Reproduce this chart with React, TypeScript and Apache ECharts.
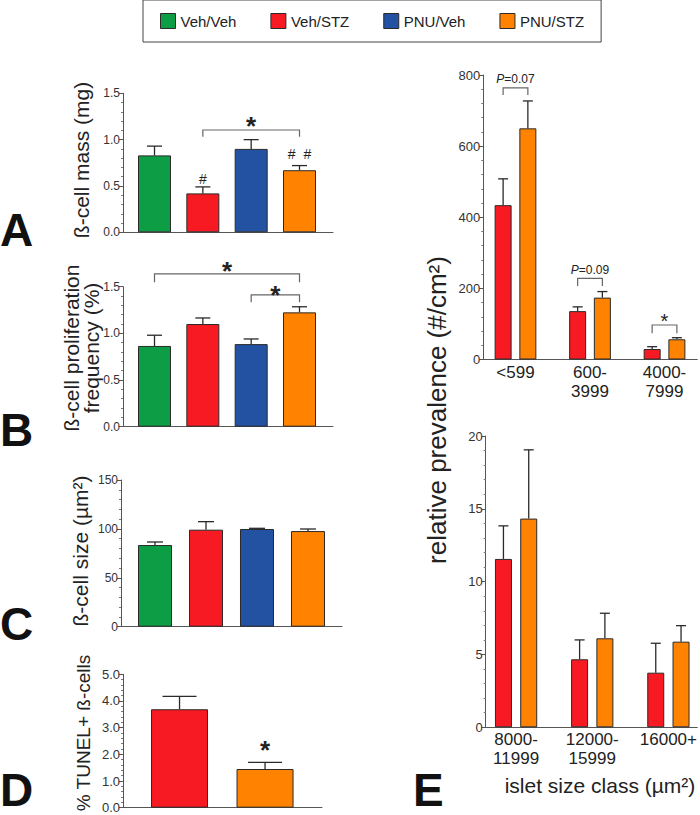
import React, { useEffect, useRef } from 'react';
import * as echarts from 'echarts';

// ---------- data ----------
const groups = ['Veh/Veh', 'Veh/STZ', 'PNU/Veh', 'PNU/STZ'];
const groupColors = ['#0c9d45', '#f71a22', '#2352a3', '#ff8300'];

const massMean = [0.83, 0.42, 0.9, 0.67];
const massSem = [0.1, 0.07, 0.1, 0.05];

const prolifMean = [0.865, 1.1, 0.885, 1.225];
const prolifSem = [0.115, 0.065, 0.055, 0.06];

const sizeMean = [83.5, 99.2, 99.9, 97.8];
const sizeSem = [3.1, 8.2, 0.7, 2.1];

const tunelGroups = ['Veh/STZ', 'PNU/STZ'];
const tunelMean = [3.69, 1.45];
const tunelSem = [0.48, 0.25];

const smallClasses = ['<599', '600-\n3999', '4000-\n7999'];
const smallVehStz = [434, 136, 29.5];
const smallVehStzSem = [74, 12, 6.5];
const smallPnuStz = [650, 174, 56.8];
const smallPnuStzSem = [77, 17, 4.5];

const largeClasses = ['8000-\n11999', '12000-\n15999', '16000+'];
const largeVehStz = [11.56, 4.67, 3.75];
const largeVehStzSem = [2.27, 1.33, 2.02];
const largePnuStz = [14.33, 6.11, 5.88];
const largePnuStzSem = [4.72, 1.72, 1.1];

// ---------- layout ----------
const FONT = 'Arial, "Liberation Sans", Helvetica, sans-serif';
const AXIS = '#555';
const PAIR_OFF = 0.166;

const panels = [
  { grid: { left: 123, top: 93.3, width: 210, height: 139 }, xMin: 0.348, xMax: 4.693, yMax: 1.5, interval: 0.5, dec: 1, barWidth: 33, cap: 15, fs: 12 },
  { grid: { left: 123, top: 286.7, width: 210, height: 140 }, xMin: 0.348, xMax: 4.693, yMax: 1.5, interval: 0.5, dec: 1, barWidth: 33, cap: 15, fs: 12 },
  { grid: { left: 121, top: 480, width: 221, height: 146.7 }, xMin: 0.333, xMax: 4.667, yMax: 150, interval: 50, dec: 0, barWidth: 34, cap: 16, fs: 12 },
  { grid: { left: 123, top: 674.3, width: 199, height: 133.4 }, xMin: 0.339, xMax: 2.666, yMax: 5, interval: 1, dec: 1, barWidth: 57, cap: 34, fs: 13 },
  { grid: { left: 483.3, top: 75, width: 214, height: 284.5 }, xMin: 0.568, xMax: 3.44, yMax: 800, interval: 200, dec: 0, barWidth: 17, cap: 10, fs: 13, classes: smallClasses },
  { grid: { left: 485.7, top: 436, width: 214, height: 291.3 }, xMin: 0.601, xMax: 3.38, yMax: 20, interval: 5, dec: 0, barWidth: 17, cap: 10, fs: 13, classes: largeClasses },
];

// annotations (data coordinates)
const brackets: number[][][] = [
  [[2, 4, 1.104, 1.031]],
  [[1, 4, 1.637, 1.548], [3, 4, 1.412, 1.333]],
  [],
  [],
  [[1 - PAIR_OFF, 1 + PAIR_OFF, 764, 744], [2 - PAIR_OFF, 2 + PAIR_OFF, 228, 207], [3 - PAIR_OFF, 3 + PAIR_OFF, 97, 73.5]],
  [],
];
type Note = { x: number; y: number; t: string; fs: number; bold?: boolean };
const notes: Note[][] = [
  [{ x: 2, y: 0.575, t: '#', fs: 14 }, { x: 4, y: 0.84, t: '#  #', fs: 14 }, { x: 3, y: 1.21, t: '*', fs: 26, bold: true }],
  [{ x: 2.5, y: 1.733, t: '*', fs: 26, bold: true }, { x: 3.5, y: 1.476, t: '*', fs: 26, bold: true }],
  [],
  [{ x: 2, y: 2.39, t: '*', fs: 26, bold: true }],
  [{ x: 1, y: 789, t: '{i|P}=0.07', fs: 12 }, { x: 2, y: 252, t: '{i|P}=0.09', fs: 12 }, { x: 3, y: 120, t: '*', fs: 20 }],
  [],
];

const barStyle = (color: string) => ({ color, borderColor: '#2a2a2a', borderWidth: 1 });

function errorSeries(p: number, pts: number[][], cap: number) {
  return {
    type: 'custom',
    xAxisIndex: p,
    yAxisIndex: p,
    z: 5,
    silent: true,
    encode: { x: 0, y: [1, 2] },
    data: pts,
    renderItem: (params: any, api: any) => {
      const x = api.value(0);
      const b = api.coord([x, api.value(1)]);
      const t = api.coord([x, api.value(2)]);
      const ls = { stroke: '#2a2a2a', lineWidth: 1.3 };
      return {
        type: 'group',
        children: [
          { type: 'line', shape: { x1: b[0], y1: b[1], x2: t[0], y2: t[1] }, style: ls },
          { type: 'line', shape: { x1: t[0] - cap / 2, y1: t[1], x2: t[0] + cap / 2, y2: t[1] }, style: ls },
        ],
      };
    },
  };
}

function bracketSeries(p: number, list: number[][]) {
  return {
    type: 'custom',
    xAxisIndex: p,
    yAxisIndex: p,
    z: 6,
    silent: true,
    clip: false,
    encode: { x: [0, 1], y: [2, 3] },
    data: list,
    renderItem: (params: any, api: any) => {
      const a = api.coord([api.value(0), api.value(2)]);
      const b = api.coord([api.value(1), api.value(2)]);
      const lo = api.coord([api.value(0), api.value(3)]);
      return {
        type: 'polyline',
        shape: { points: [[a[0], lo[1]], a, b, [b[0], lo[1]]] },
        style: { stroke: '#666', lineWidth: 1.2, fill: 'none' },
      };
    },
  };
}

function noteSeries(p: number, list: Note[]) {
  return {
    type: 'custom',
    xAxisIndex: p,
    yAxisIndex: p,
    z: 7,
    silent: true,
    clip: false,
    encode: { x: 0, y: 1 },
    data: list.map((n) => [n.x, n.y]),
    renderItem: (params: any, api: any) => {
      const n = list[params.dataIndex];
      const c = api.coord([api.value(0), api.value(1)]);
      const dy = n.t === '*' ? n.fs * 0.22 : 0;
      return {
        type: 'text',
        x: c[0],
        y: c[1] + dy,
        style: {
          text: n.t,
          fontSize: n.fs,
          fontFamily: FONT,
          fontWeight: n.bold ? 'bold' : 'normal',
          fill: '#222',
          align: 'center',
          verticalAlign: 'middle',
          rich: { i: { fontStyle: 'italic', fontSize: n.fs, fontFamily: FONT, fill: '#222' } },
        },
      };
    },
  };
}

function buildOption() {
  const grid = panels.map((p) => ({ ...p.grid, containLabel: false }));
  const xAxis = panels.map((p, i) => ({
    type: 'value',
    gridIndex: i,
    min: p.xMin,
    max: p.xMax,
    axisLine: { show: true, onZero: false, lineStyle: { color: AXIS, width: 1 } },
    axisTick: { show: false },
    splitLine: { show: false },
    axisLabel: p.classes
      ? {
          show: true,
          customValues: [1, 2, 3],
          formatter: (v: number) => (p.classes as string[])[Math.round(v) - 1] ?? '',
          fontSize: 17,
          lineHeight: 19,
          color: '#222',
          margin: 3,
          fontFamily: FONT,
        }
      : { show: false },
  }));
  const yAxis = panels.map((p, i) => ({
    type: 'value',
    gridIndex: i,
    min: 0,
    max: p.yMax,
    interval: p.interval,
    axisLine: { show: true, lineStyle: { color: AXIS, width: 1 } },
    axisTick: { show: true, length: 4, lineStyle: { color: AXIS } },
    minorTick: { show: true, splitNumber: 5, length: 2, lineStyle: { color: '#777' } },
    splitLine: { show: false },
    minorSplitLine: { show: false },
    axisLabel: {
      fontSize: p.fs,
      color: '#333',
      margin: 3,
      fontFamily: FONT,
      formatter: (v: number) => v.toFixed(p.dec),
    },
  }));

  const series: any[] = [];
  const fourPanels = [
    [massMean, massSem],
    [prolifMean, prolifSem],
    [sizeMean, sizeSem],
  ];
  fourPanels.forEach(([mean, sem], p) => {
    groups.forEach((g, gi) => {
      series.push({
        type: 'bar',
        name: g,
        xAxisIndex: p,
        yAxisIndex: p,
        barWidth: panels[p].barWidth,
        barGap: '-100%',
        itemStyle: barStyle(groupColors[gi]),
        data: [[gi + 1, mean[gi]]],
      });
    });
    series.push(errorSeries(p, mean.map((m, i) => [i + 1, m, m + sem[i]]), panels[p].cap));
  });

  // D
  tunelGroups.forEach((g, gi) => {
    series.push({
      type: 'bar',
      name: g,
      xAxisIndex: 3,
      yAxisIndex: 3,
      barWidth: panels[3].barWidth,
      barGap: '-100%',
      itemStyle: barStyle(groupColors[groups.indexOf(g)]),
      data: [[gi + 1, tunelMean[gi]]],
    });
  });
  series.push(errorSeries(3, tunelMean.map((m, i) => [i + 1, m, m + tunelSem[i]]), panels[3].cap));

  // E
  const ePanels = [
    [smallVehStz, smallVehStzSem, smallPnuStz, smallPnuStzSem],
    [largeVehStz, largeVehStzSem, largePnuStz, largePnuStzSem],
  ];
  ePanels.forEach(([vm, vs, pm, ps], k) => {
    const p = 4 + k;
    const sets: [string, number[], number[], number][] = [
      ['Veh/STZ', vm, vs, -PAIR_OFF],
      ['PNU/STZ', pm, ps, PAIR_OFF],
    ];
    const errPts: number[][] = [];
    sets.forEach(([name, m, s, off]) => {
      series.push({
        type: 'bar',
        name,
        xAxisIndex: p,
        yAxisIndex: p,
        barWidth: panels[p].barWidth,
        barGap: '-100%',
        itemStyle: barStyle(groupColors[groups.indexOf(name)]),
        data: m.map((v, i) => [i + 1 + off, v]),
      });
      m.forEach((v, i) => errPts.push([i + 1 + off, v, v + s[i]]));
    });
    series.push(errorSeries(p, errPts, panels[p].cap));
  });

  panels.forEach((_, p) => {
    if (brackets[p].length) series.push(bracketSeries(p, brackets[p]));
    if (notes[p].length) series.push(noteSeries(p, notes[p]));
  });

  const title = (text: string, x: number, y: number, fs: number, lh?: number) => ({
    type: 'text',
    x,
    y,
    rotation: Math.PI / 2,
    silent: true,
    style: {
      text,
      fontSize: fs,
      fontFamily: FONT,
      fill: '#222',
      align: 'center',
      verticalAlign: 'middle',
      lineHeight: lh ?? fs * 1.15,
    },
  });
  const letter = (text: string, x: number, y: number) => ({
    type: 'text',
    x,
    y,
    silent: true,
    style: { text, fontSize: 46, fontWeight: 'bold', fontFamily: FONT, fill: '#111', align: 'left', verticalAlign: 'middle', lineHeight: 46 },
  });

  return {
    animation: false,
    backgroundColor: '#fff',
    textStyle: { fontFamily: FONT },
    legend: {
      left: 143,
      top: 0,
      data: groups,
      icon: 'rect',
      itemWidth: 15,
      itemHeight: 15,
      itemGap: 34,
      padding: [13, 17, 13, 17],
      borderColor: '#444',
      borderWidth: 1,
      itemStyle: { borderColor: '#2a2a2a', borderWidth: 1 },
      textStyle: { fontSize: 15, color: '#222', fontFamily: FONT },
      selectedMode: false,
    },
    grid,
    xAxis,
    yAxis,
    series,
    graphic: [
      letter('A', 0, 229.5),
      letter('B', 0, 430),
      letter('C', 0, 624),
      letter('D', 0, 790),
      letter('E', 413, 790),
      title('ß-cell mass (mg)', 81, 160, 21),
      title('ß-cell proliferation\nfrequency (%)', 81, 348, 21, 20),
      title('ß-cell size (µm²)', 80, 551, 21),
      title('% TUNEL+ ß-cells', 83, 733, 19),
      title('relative prevalence (#/cm²)', 437, 410, 26),
      {
        type: 'text',
        x: 600,
        y: 785,
        silent: true,
        style: { text: 'islet size class (µm²)', fontSize: 21, fontFamily: FONT, fill: '#222', align: 'center', verticalAlign: 'middle' },
      },
    ],
  };
}

export default function App() {
  const ref = useRef<HTMLDivElement>(null);
  useEffect(() => {
    document.body.style.margin = '0';
    if (!ref.current) return;
    const chart = echarts.init(ref.current, undefined, { renderer: 'svg' });
    chart.setOption(buildOption() as any);
    return () => chart.dispose();
  }, []);
  return <div ref={ref} style={{ width: 700, height: 815 }} />;
}
